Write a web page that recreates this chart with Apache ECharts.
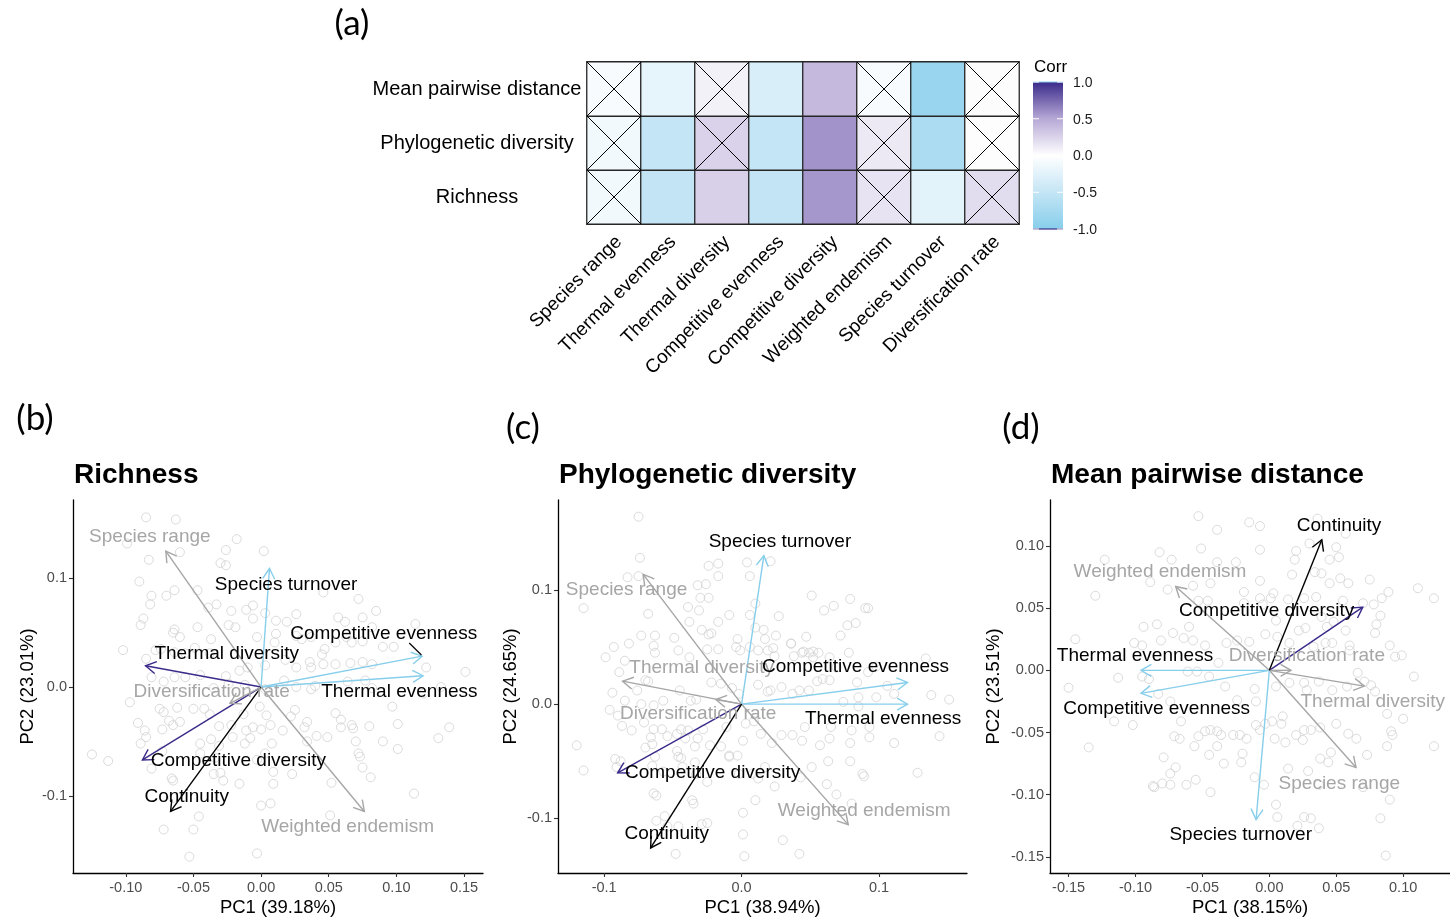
<!DOCTYPE html>
<html>
<head>
<meta charset="utf-8">
<script src="https://cdn.jsdelivr.net/npm/echarts@6/dist/echarts.min.js"></script>
<style>
  html, body { margin: 0; padding: 0; background: #ffffff; }
  #chart { width: 1450px; height: 919px; }
</style>
</head>
<body>
<div id="chart"></div>
<script>
// ---------------- correlation heatmap (a) ----------------
const corrCols = ['Species range', 'Thermal evenness', 'Thermal diversity', 'Competitive evenness',
  'Competitive diversity', 'Weighted endemism', 'Species turnover', 'Diversification rate'];
const corrRows = ['Richness', 'Phylogenetic diversity', 'Mean pairwise distance'];   // bottom -> top
const corrRichness = [-0.12, -0.52, 0.27, -0.52, 0.57, 0.16, -0.24, 0.20];
const corrPD       = [-0.12, -0.50, 0.26, -0.50, 0.58, 0.13, -0.70, 0.01];
const corrMPD      = [-0.07, -0.21, 0.08, -0.33, 0.40, -0.07, -0.85, 0.02];
// 1 = not significant (crossed cell)
const nsRichness = [1, 0, 0, 0, 0, 1, 0, 1];
const nsPD       = [1, 0, 1, 0, 0, 1, 0, 1];
const nsMPD      = [1, 0, 1, 0, 0, 1, 0, 1];
const corrLegendTicks = [1.0, 0.5, 0.0, -0.5, -1.0];

// ---------------- PCA biplots (b)-(d) ----------------
const pcaVars = corrCols.concat(['Continuity']);

// loadings (arrow tips), same order as pcaVars
const loadRichness = [[-0.0704, 0.125], [0.1197, 0.0104], [-0.0854, 0.0196], [0.119, 0.0284],
  [-0.0877, -0.067], [0.0763, -0.1144], [0.0062, 0.109], [-0.023, -0.015], [-0.0669, -0.1144]];
const loadPD = [[-0.0716, 0.1136], [0.1207, 0.0], [-0.0866, 0.0201], [0.1207, 0.019],
  [-0.0902, -0.0601], [0.0776, -0.1054], [0.0162, 0.1299], [-0.0187, 0.0041], [-0.0662, -0.1258]];
const loadMPD = [[0.0648, -0.0782], [-0.0959, 0.0], [0.071, -0.0127], [-0.0959, -0.0185],
  [0.0698, 0.0508], [-0.07, 0.0674], [-0.0099, -0.12], [0.0162, 0.0], [0.0392, 0.105]];

// label anchors (repelled), same order as pcaVars
const labelRichness = [[-0.0822, 0.138], [0.1022, -0.004], [-0.0254, 0.0303], [0.0906, 0.0486],
  [-0.0168, -0.0676], [0.0639, -0.1288], [0.0185, 0.0942], [-0.0365, -0.0043], [-0.055, -0.1006]];
const labelPD = [[-0.0837, 0.1004], [0.103, -0.0131], [-0.0291, 0.0321], [0.0829, 0.0327],
  [-0.0211, -0.0601], [0.0892, -0.0934], [0.0279, 0.1421], [-0.0316, -0.0088], [-0.0545, -0.1133]];
const labelMPD = [[0.0523, -0.091], [-0.1004, 0.0115], [0.0773, -0.0253], [-0.0842, -0.0312],
  [-0.002, 0.0478], [-0.0817, 0.0795], [-0.0214, -0.1321], [0.028, 0.0115], [0.0521, 0.1163]];
const leaderRichness = [[0.1095, 0.0405], [0.1185, 0.0295]];

// site scores
const scoresRichness = [
[-0.085,0.156],[-0.063,0.154],[-0.018,0.136],[-0.099,0.132],[-0.060,0.124],[0.002,0.125],[-0.083,0.117],[-0.026,0.126],[-0.030,0.114],[-0.026,0.112],
[-0.090,0.097],[-0.064,0.089],[-0.081,0.084],[-0.070,0.084],[-0.082,0.076],[-0.047,0.089],[-0.039,0.073],[-0.033,0.076],[-0.022,0.070],[-0.011,0.071],
[-0.006,0.075],[-0.006,0.063],[0.003,0.068],[0.011,0.061],[0.019,0.060],[0.026,0.067],[0.072,0.081],[0.085,0.070],[0.057,0.064],[0.075,0.064],
[0.062,0.060],[0.082,0.055],[0.114,0.058],[-0.087,0.063],[-0.089,0.057],[-0.064,0.053],[-0.065,0.050],[-0.060,0.046],[-0.047,0.055],[-0.037,0.044],
[-0.024,0.057],[-0.019,0.055],[-0.003,0.046],[0.011,0.049],[0.010,0.041],[0.026,0.047],[0.030,0.044],[0.037,0.046],[0.047,0.035],[0.055,0.041],
[0.063,0.046],[0.067,0.041],[0.075,0.042],[0.090,0.037],[0.098,0.037],[-0.102,0.034],[-0.085,0.026],[-0.074,0.035],[-0.078,0.034],[-0.064,0.032],
[-0.056,0.031],[-0.049,0.036],[-0.038,0.031],[-0.026,0.010],[-0.016,0.015],[-0.010,0.018],[0.003,0.020],[0.018,0.025],[0.026,0.018],[0.036,0.023],
[0.037,0.018],[0.045,0.030],[0.046,0.021],[0.055,0.021],[0.066,0.022],[0.075,0.023],[0.082,0.021],[0.122,0.018],[0.151,0.014],[0.133,0.000],
[0.120,-0.006],[0.097,-0.018],[-0.081,0.009],[-0.072,0.005],[-0.064,0.009],[-0.056,0.009],[-0.045,0.011],[-0.035,-0.001],[-0.024,0.003],[-0.012,0.002],
[0.003,-0.002],[0.017,0.006],[0.026,0.000],[0.037,-0.002],[0.040,0.001],[0.064,0.005],[0.077,0.006],[0.082,-0.001],[-0.097,-0.014],[-0.091,-0.033],
[-0.086,-0.040],[-0.085,-0.046],[-0.075,-0.020],[-0.072,-0.023],[-0.062,-0.019],[-0.068,-0.031],[-0.065,-0.035],[-0.073,-0.039],[-0.060,-0.032],[-0.050,-0.020],
[-0.042,-0.020],[-0.038,-0.025],[-0.031,-0.036],[-0.022,-0.035],[-0.013,-0.025],[-0.011,-0.040],[-0.006,-0.037],[0.000,-0.039],[-0.001,-0.018],[0.004,-0.026],
[0.007,-0.035],[0.016,-0.040],[0.025,-0.021],[0.022,-0.027],[0.034,-0.032],[0.032,-0.037],[0.034,-0.050],[0.041,-0.045],[0.049,-0.046],[0.055,-0.024],
[0.059,-0.030],[0.059,-0.037],[0.067,-0.035],[0.068,-0.038],[0.080,-0.036],[0.101,-0.034],[0.090,-0.050],[0.101,-0.057],[0.131,-0.047],[0.139,-0.037],
[0.072,-0.061],[0.073,-0.064],[0.075,-0.074],[0.070,-0.050],[0.081,-0.083],[0.052,-0.088],[0.113,-0.098],[-0.125,-0.062],[-0.113,-0.068],[-0.089,-0.052],
[-0.081,-0.075],[-0.073,-0.059],[-0.066,-0.084],[-0.065,-0.086],[-0.065,-0.102],[-0.045,-0.061],[-0.037,-0.048],[-0.031,-0.054],[-0.035,-0.080],[-0.030,-0.079],
[-0.028,-0.086],[-0.016,-0.089],[-0.012,-0.052],[-0.008,-0.047],[-0.003,-0.067],[0.003,-0.061],[0.008,-0.052],[0.009,-0.078],[0.009,-0.089],[0.023,-0.080],
[0.000,-0.109],[0.007,-0.107],[0.051,-0.118],[-0.072,-0.131],[-0.050,-0.131],[-0.046,-0.119],[-0.053,-0.156],[-0.003,-0.153],[-0.034,-0.065],[-0.045,-0.052],
[-0.021,-0.046],[0.046,0.087]
];
const scoresPD = [
[-0.075,0.164],[-0.074,0.128],[-0.075,0.112],[-0.083,0.111],[-0.115,0.084],[-0.032,0.104],[-0.026,0.105],[-0.030,0.093],[-0.024,0.093],[-0.024,0.121],
[-0.017,0.123],[-0.017,0.112],[0.004,0.124],[0.021,0.125],[0.006,0.112],[0.051,0.095],[0.079,0.092],[0.067,0.086],[0.060,0.082],[0.090,0.084],
[0.092,0.084],[0.027,0.077],[-0.068,0.079],[-0.039,0.085],[-0.031,0.082],[-0.038,0.072],[-0.009,0.078],[0.006,0.078],[0.010,0.088],[-0.017,0.072],
[-0.029,0.065],[-0.024,0.061],[-0.022,0.062],[-0.003,0.057],[0.010,0.067],[0.016,0.065],[0.017,0.057],[0.025,0.060],[0.036,0.053],[0.047,0.059],
[0.077,0.069],[0.083,0.071],[0.072,0.060],[0.045,0.046],[0.052,0.046],[0.056,0.045],[0.078,0.045],[0.134,0.040],[0.106,0.016],[0.098,0.006],
[0.138,0.008],[0.151,0.004],[-0.099,0.041],[-0.093,0.050],[-0.089,0.028],[-0.085,0.038],[-0.082,0.053],[-0.073,0.060],[-0.063,0.060],[-0.064,0.051],
[-0.063,0.045],[-0.049,0.058],[-0.046,0.047],[-0.038,0.041],[-0.025,0.048],[-0.017,0.048],[-0.004,0.050],[-0.001,0.047],[0.006,0.050],[0.012,0.047],
[0.019,0.047],[0.023,0.049],[0.024,0.042],[0.036,0.053],[0.038,0.042],[0.044,0.045],[0.049,0.045],[0.052,0.041],[0.064,0.041],[0.064,0.021],
[0.069,0.032],[0.084,0.019],[0.085,0.006],[0.092,0.028],[0.098,0.033],[-0.068,0.020],[-0.070,0.021],[-0.076,0.012],[-0.094,0.010],[-0.085,0.003],
[-0.073,0.000],[-0.064,-0.001],[-0.057,0.003],[-0.045,0.012],[-0.037,0.003],[-0.033,0.004],[-0.022,0.019],[-0.015,0.018],[-0.007,0.014],[-0.002,0.009],
[0.012,0.017],[0.019,0.011],[0.021,0.012],[0.029,0.015],[0.037,0.009],[0.042,0.012],[0.049,0.012],[0.055,0.020],[0.059,0.022],[0.074,0.002],
[0.085,-0.002],[0.111,0.009],[-0.096,-0.005],[-0.090,-0.010],[-0.087,-0.019],[-0.080,-0.023],[-0.071,-0.016],[-0.066,-0.029],[-0.065,-0.035],[-0.064,-0.022],
[-0.058,-0.022],[-0.054,-0.028],[-0.047,-0.026],[-0.044,-0.022],[-0.039,-0.023],[-0.034,-0.037],[-0.032,-0.030],[-0.023,-0.036],[-0.028,-0.022],[-0.015,-0.037],
[-0.011,-0.020],[-0.009,-0.045],[-0.003,-0.045],[0.001,-0.032],[0.003,-0.017],[0.009,-0.015],[0.014,-0.026],[0.022,-0.034],[0.029,-0.027],[0.037,-0.027],
[0.044,-0.032],[0.046,-0.020],[0.057,-0.036],[0.064,-0.030],[0.065,-0.020],[0.079,-0.034],[0.080,-0.023],[0.093,-0.029],[0.093,-0.020],[0.111,-0.034],
[0.144,-0.028],[-0.120,-0.036],[-0.115,-0.058],[-0.092,-0.048],[-0.091,-0.055],[-0.088,-0.050],[-0.070,-0.038],[-0.065,-0.054],[-0.063,-0.046],[-0.057,-0.059],
[-0.047,-0.041],[-0.046,-0.046],[-0.044,-0.047],[-0.043,-0.055],[-0.041,-0.030],[-0.034,-0.051],[-0.033,-0.061],[-0.025,-0.068],[-0.009,-0.046],[-0.002,-0.061],
[0.008,-0.061],[0.012,-0.065],[0.017,-0.055],[0.024,-0.072],[0.043,-0.064],[0.051,-0.055],[0.062,-0.070],[0.063,-0.050],[0.069,-0.079],[0.079,-0.050],
[0.088,-0.061],[0.089,-0.063],[0.128,-0.060],[0.080,-0.087],[-0.064,-0.078],[-0.062,-0.080],[-0.056,-0.098],[-0.046,-0.107],[-0.036,-0.084],[-0.035,-0.087],
[-0.025,-0.104],[-0.029,-0.105],[-0.048,-0.131],[-0.062,-0.102],[-0.054,-0.107],[0.001,-0.095],[0.001,-0.114],[0.002,-0.133],[0.030,-0.119],[0.042,-0.131],
[0.010,-0.084]
];
const scoresMPD = [
[-0.053,0.124],[-0.015,0.119],[-0.007,0.116],[-0.039,0.113],[0.036,0.122],[0.057,0.110],[-0.051,0.098],[-0.082,0.095],[-0.123,0.089],[-0.073,0.089],
[-0.039,0.087],[-0.025,0.087],[-0.007,0.097],[0.020,0.096],[0.030,0.102],[0.050,0.099],[0.052,0.091],[0.045,0.089],[0.019,0.089],[-0.089,0.071],
[-0.130,0.060],[-0.076,0.065],[-0.057,0.068],[-0.044,0.070],[-0.019,0.063],[-0.007,0.072],[0.001,0.058],[0.003,0.062],[0.017,0.077],[0.034,0.079],
[0.039,0.078],[0.045,0.070],[0.053,0.074],[0.059,0.070],[0.075,0.073],[0.089,0.063],[0.084,0.058],[0.111,0.066],[0.123,0.058],[-0.053,0.056],
[-0.046,0.056],[-0.019,0.054],[-0.007,0.058],[-0.005,0.053],[0.014,0.057],[0.026,0.058],[0.035,0.059],[0.055,0.056],[0.070,0.054],[0.078,0.053],
[0.083,0.044],[0.080,0.037],[0.079,0.030],[0.057,0.032],[0.048,0.039],[0.039,0.043],[0.043,0.035],[0.047,0.022],[0.033,0.019],[-0.094,0.035],
[-0.084,0.037],[-0.081,0.024],[-0.145,0.025],[-0.101,0.022],[-0.095,0.020],[-0.072,0.030],[-0.064,0.026],[-0.060,0.035],[-0.057,0.024],[-0.048,0.020],
[-0.032,0.022],[-0.024,0.024],[-0.015,0.023],[-0.003,0.029],[0.005,0.040],[0.006,0.027],[0.015,0.022],[0.022,0.032],[0.027,0.034],[0.042,0.022],
[0.060,0.020],[0.060,0.016],[0.090,0.020],[0.099,0.012],[0.094,0.011],[0.108,-0.005],[0.100,-0.039],[0.123,-0.061],[-0.150,-0.014],[-0.113,-0.006],
[-0.116,-0.041],[-0.102,-0.044],[-0.095,-0.005],[-0.090,-0.007],[-0.083,-0.019],[-0.074,-0.025],[-0.066,-0.041],[-0.061,-0.001],[-0.054,-0.001],[-0.045,-0.005],
[-0.038,0.006],[-0.033,-0.013],[-0.024,-0.024],[-0.011,-0.015],[-0.010,-0.025],[0.005,-0.013],[0.015,-0.010],[0.026,-0.010],[0.028,-0.016],[0.037,-0.009],
[0.047,-0.016],[0.058,-0.013],[0.066,-0.002],[0.071,-0.009],[0.076,-0.012],[0.079,-0.017],[0.088,-0.035],[0.091,-0.049],[0.092,-0.052],[0.088,-0.061],
[0.073,-0.068],[0.065,-0.055],[0.059,-0.051],[0.050,-0.043],[0.038,-0.046],[0.031,-0.048],[0.026,-0.048],[0.020,-0.052],[0.025,-0.056],[0.010,-0.037],
[0.009,-0.043],[0.012,-0.058],[0.004,-0.055],[0.002,-0.041],[-0.003,-0.043],[-0.007,-0.048],[-0.010,-0.044],[-0.022,-0.052],[-0.017,-0.055],[-0.027,-0.052],
[-0.039,-0.049],[-0.044,-0.048],[-0.048,-0.049],[-0.036,-0.052],[-0.053,-0.053],[-0.045,-0.068],[-0.039,-0.061],[-0.056,-0.061],[-0.067,-0.055],[-0.071,-0.053],
[-0.135,-0.062],[-0.079,-0.070],[-0.074,-0.083],[-0.070,-0.078],[-0.074,-0.092],[-0.080,-0.091],[-0.087,-0.093],[-0.086,-0.094],[-0.062,-0.092],[-0.055,-0.088],
[-0.044,-0.098],[-0.011,-0.086],[-0.004,-0.092],[0.038,-0.071],[0.044,-0.074],[0.046,-0.066],[0.029,-0.081],[0.014,-0.079],[0.005,-0.108],[0.006,-0.118],
[0.026,-0.118],[0.031,-0.119],[0.037,-0.127],[0.021,-0.125],[0.083,-0.119],[0.090,-0.104],[0.087,-0.149],[0.037,-0.092],[0.070,-0.094],[-0.021,-0.074],
[-0.020,-0.067],[-0.034,-0.075]
];

// axis limits and tick labels
const rangeRichnessX = [-0.139, 0.164], rangeRichnessY = [-0.171, 0.172];
const rangePDX = [-0.1336, 0.164],      rangePDY = [-0.1477, 0.1786];
const rangeMPDX = [-0.1639, 0.135],     rangeMPDY = [-0.163, 0.137];
const ticksRichnessX = [-0.10, -0.05, 0.00, 0.05, 0.10, 0.15];
const ticksRichnessY = [-0.1, 0.0, 0.1];
const ticksPDX = [-0.1, 0.0, 0.1];
const ticksPDY = [-0.1, 0.0, 0.1];
const ticksMPDX = [-0.15, -0.10, -0.05, 0.00, 0.05, 0.10];
const ticksMPDY = [-0.15, -0.10, -0.05, 0.00, 0.05, 0.10];

// ---------------- styling ----------------
const FONT = "'Liberation Sans', Arial, Helvetica, sans-serif";
const TAG_FONT = "Lato, 'Open Sans', sans-serif";
const BLUE = '#87ceeb', PURPLE = '#3b2a8a', GRAY = '#a6a6a6', POINT = '#d2d2d2';
const SCALE = ['#87ceeb', '#c4e5f5', '#ffffff', '#b6a8d6', '#3b2a8a'];   // -1 .. 1

const panels = [
  { tag: '(b)', tagPos: [35, 419], title: 'Richness', corr: corrRichness, ns: nsRichness,
    scores: scoresRichness, load: loadRichness, labels: labelRichness, leader: leaderRichness,
    xName: 'PC1 (39.18%)', yName: 'PC2 (23.01%)', xRange: rangeRichnessX, yRange: rangeRichnessY,
    xTicks: ticksRichnessX, yTicks: ticksRichnessY, xDigits: 2, yDigits: 1,
    grid: { left: 73, top: 500, width: 410, height: 373 }, yNameGap: 36 },
  { tag: '(c)', tagPos: [523, 428], title: 'Phylogenetic diversity', corr: corrPD, ns: nsPD,
    scores: scoresPD, load: loadPD, labels: labelPD, leader: null,
    xName: 'PC1 (38.94%)', yName: 'PC2 (24.65%)', xRange: rangePDX, yRange: rangePDY,
    xTicks: ticksPDX, yTicks: ticksPDY, xDigits: 1, yDigits: 1,
    grid: { left: 558, top: 500, width: 409, height: 373 }, yNameGap: 38 },
  { tag: '(d)', tagPos: [1021, 428], title: 'Mean pairwise distance', corr: corrMPD, ns: nsMPD,
    scores: scoresMPD, load: loadMPD, labels: labelMPD, leader: null,
    xName: 'PC1 (38.15%)', yName: 'PC2 (23.51%)', xRange: rangeMPDX, yRange: rangeMPDY,
    xTicks: ticksMPDX, yTicks: ticksMPDY, xDigits: 2, yDigits: 2,
    grid: { left: 1050, top: 500, width: 400, height: 373 }, yNameGap: 47 }
];

function arrowColor(p, i) {
  if (i >= corrCols.length) return '#000000';
  if (p.ns[i]) return GRAY;
  return p.corr[i] < 0 ? BLUE : PURPLE;
}
function labelColor(p, i) {
  return (i < corrCols.length && p.ns[i]) ? GRAY : '#000000';
}

const grids = [{ left: 587, top: 62, width: 432, height: 162 }];
const xAxes = [{
  gridIndex: 0, type: 'category', data: corrCols,
  axisLine: { show: false }, axisTick: { show: false }, splitLine: { show: false },
  axisLabel: { show: false }
}];
const yAxes = [{
  gridIndex: 0, type: 'category', data: corrRows,
  axisLine: { show: false }, axisTick: { show: false }, splitLine: { show: false },
  axisLabel: { align: 'center', margin: 110, fontSize: 20, fontFamily: FONT, color: '#000' }
}];

const heatData = [];
const crossData = [];
[corrRichness, corrPD, corrMPD].forEach((row, r) => {
  const ns = [nsRichness, nsPD, nsMPD][r];
  row.forEach((v, c) => {
    heatData.push([c, r, v]);
    if (ns[c]) crossData.push([c, r]);
  });
});

const series = [
  {
    type: 'heatmap', xAxisIndex: 0, yAxisIndex: 0, data: heatData, silent: true,
    itemStyle: { borderColor: '#262626', borderWidth: 1.3 },
    emphasis: { disabled: true }
  },
  {
    type: 'custom', xAxisIndex: 0, yAxisIndex: 0, data: crossData, silent: true, z: 5,
    encode: { x: 0, y: 1 },
    renderItem: (params, api) => {
      const c = api.coord([api.value(0), api.value(1)]);
      const s = api.size([1, 1]);
      const x0 = c[0] - s[0] / 2, x1 = c[0] + s[0] / 2, y0 = c[1] - s[1] / 2, y1 = c[1] + s[1] / 2;
      const st = { stroke: '#000', lineWidth: 1 };
      return { type: 'group', children: [
        { type: 'line', shape: { x1: x0, y1: y0, x2: x1, y2: y1 }, style: st },
        { type: 'line', shape: { x1: x0, y1: y1, x2: x1, y2: y0 }, style: st }
      ] };
    }
  },
  // column names, slanted 45 degrees with their top-right corner under each column
  {
    type: 'custom', xAxisIndex: 0, yAxisIndex: 0, silent: true, z: 5,
    data: corrCols.map((name, i) => [i, 0]),
    encode: { x: 0, y: 1 },
    renderItem: (params, api) => {
      const c = api.coord([api.value(0), 0]);
      const s = api.size([1, 1]);
      return { type: 'text', x: c[0] + 5, y: c[1] + s[1] / 2 + 15, rotation: Math.PI / 4,
        style: { text: corrCols[params.dataIndex], fill: '#000', fontSize: 19, fontFamily: FONT,
          align: 'right', verticalAlign: 'middle' } };
    }
  }
];

const graphics = [];

panels.forEach((p, k) => {
  const gi = k + 1;
  grids.push(p.grid);
  xAxes.push({
    gridIndex: gi, type: 'value', min: p.xRange[0], max: p.xRange[1],
    name: p.xName, nameLocation: 'middle', nameGap: 25,
    nameTextStyle: { fontSize: 18.5, fontFamily: FONT, color: '#000' },
    axisLine: { show: true, onZero: false, lineStyle: { color: '#000', width: 1.3 } },
    axisTick: { show: true, length: 4, customValues: p.xTicks, lineStyle: { color: '#333', width: 1.1 } },
    axisLabel: { customValues: p.xTicks, formatter: v => v.toFixed(p.xDigits), fontSize: 14.5,
      fontFamily: FONT, color: '#4d4d4d', margin: 7 },
    splitLine: { show: false }
  });
  yAxes.push({
    gridIndex: gi, type: 'value', min: p.yRange[0], max: p.yRange[1],
    name: p.yName, nameLocation: 'middle', nameGap: p.yNameGap, nameRotate: 90,
    nameTextStyle: { fontSize: 18.5, fontFamily: FONT, color: '#000' },
    axisLine: { show: true, onZero: false, lineStyle: { color: '#000', width: 1.3 } },
    axisTick: { show: true, length: 4, customValues: p.yTicks, lineStyle: { color: '#333', width: 1.1 } },
    axisLabel: { customValues: p.yTicks, formatter: v => v.toFixed(p.yDigits), fontSize: 14.5,
      fontFamily: FONT, color: '#4d4d4d', margin: 6 },
    splitLine: { show: false }
  });

  // site scores
  series.push({
    type: 'scatter', xAxisIndex: gi, yAxisIndex: gi, data: p.scores, silent: true,
    symbol: 'circle', symbolSize: 9,
    itemStyle: { color: 'rgba(255,255,255,0)', borderColor: POINT, borderWidth: 1 }
  });

  // loading arrows with open heads
  series.push({
    type: 'custom', xAxisIndex: gi, yAxisIndex: gi, data: p.load, silent: true, z: 4,
    encode: { x: 0, y: 1 },
    renderItem: (params, api) => {
      const o = api.coord([0, 0]);
      const e = api.coord([api.value(0), api.value(1)]);
      const col = arrowColor(p, params.dataIndex);
      const a = Math.atan2(e[1] - o[1], e[0] - o[0]);
      const len = 12, ang = Math.PI / 6;
      const head = [
        [e[0] - len * Math.cos(a - ang), e[1] - len * Math.sin(a - ang)],
        [e[0], e[1]],
        [e[0] - len * Math.cos(a + ang), e[1] - len * Math.sin(a + ang)]
      ];
      return { type: 'group', children: [
        { type: 'line', shape: { x1: o[0], y1: o[1], x2: e[0], y2: e[1] },
          style: { stroke: col, lineWidth: 1.4 } },
        { type: 'polyline', shape: { points: head },
          style: { stroke: col, fill: null, lineWidth: 1.4 } }
      ] };
    }
  });

  if (p.leader) {
    series.push({
      type: 'lines', coordinateSystem: 'cartesian2d', xAxisIndex: gi, yAxisIndex: gi, silent: true, z: 4,
      data: [{ coords: p.leader }], lineStyle: { color: '#000', width: 1.2, opacity: 1 }
    });
  }

  // variable labels
  series.push({
    type: 'custom', xAxisIndex: gi, yAxisIndex: gi, data: p.labels, silent: true, z: 6,
    encode: { x: 0, y: 1 },
    renderItem: (params, api) => {
      const c = api.coord([api.value(0), api.value(1)]);
      return { type: 'text', x: c[0], y: c[1], style: {
        text: pcaVars[params.dataIndex], fill: labelColor(p, params.dataIndex),
        fontSize: 19, fontFamily: FONT, align: 'center', verticalAlign: 'middle'
      } };
    }
  });

  graphics.push({ type: 'text', x: p.grid.left + 1, y: 475, style: {
    text: p.title, fill: '#000', fontSize: 28, fontWeight: 'bold', fontFamily: FONT,
    align: 'left', verticalAlign: 'middle' } });
  graphics.push({ type: 'text', x: p.tagPos[0], y: p.tagPos[1], style: {
    text: p.tag, fill: '#000', fontSize: 35, fontFamily: TAG_FONT,
    align: 'center', verticalAlign: 'middle' } });
});

// panel (a) tag
graphics.push({ type: 'text', x: 352, y: 24, style: {
  text: '(a)', fill: '#000', fontSize: 35, fontFamily: TAG_FONT, align: 'center', verticalAlign: 'middle' } });

// colour bar legend
const bar = { x: 1033, y: 82, w: 30, h: 147 };
graphics.push({ type: 'text', x: bar.x + 1, y: 67, style: {
  text: 'Corr', fill: '#000', fontSize: 17, fontFamily: FONT, align: 'left', verticalAlign: 'middle' } });
graphics.push({ type: 'rect', shape: { x: bar.x, y: bar.y, width: bar.w, height: bar.h }, style: {
  fill: { type: 'linear', x: 0, y: 0, x2: 0, y2: 1, colorStops: SCALE.slice().reverse().map((c, i) => ({ offset: i / (SCALE.length - 1), color: c })) } } });
graphics.push({ type: 'line', shape: { x1: bar.x, y1: bar.y, x2: bar.x + bar.w, y2: bar.y }, style: { stroke: BLUE, lineWidth: 1 } });
graphics.push({ type: 'line', shape: { x1: bar.x, y1: bar.y + bar.h, x2: bar.x + bar.w, y2: bar.y + bar.h }, style: { stroke: PURPLE, lineWidth: 1.2 } });
corrLegendTicks.forEach(v => {
  const y = bar.y + (1 - v) / 2 * bar.h;
  graphics.push({ type: 'line', shape: { x1: bar.x, y1: y, x2: bar.x + 6, y2: y }, style: { stroke: '#fff', lineWidth: 1 } });
  graphics.push({ type: 'line', shape: { x1: bar.x + bar.w - 6, y1: y, x2: bar.x + bar.w, y2: y }, style: { stroke: '#fff', lineWidth: 1 } });
  graphics.push({ type: 'text', x: bar.x + 40, y: y + 1, style: {
    text: v.toFixed(1), fill: '#1a1a1a', fontSize: 14, fontFamily: FONT, align: 'left', verticalAlign: 'middle' } });
});

const chart = echarts.init(document.getElementById('chart'), null, { renderer: 'canvas' });
chart.setOption({
  animation: false,
  backgroundColor: '#ffffff',
  grid: grids,
  xAxis: xAxes,
  yAxis: yAxes,
  visualMap: {
    show: false, type: 'continuous', min: -1, max: 1, dimension: 2, seriesIndex: 0,
    inRange: { color: SCALE }
  },
  series: series,
  graphic: graphics
});
</script>
</body>
</html>
